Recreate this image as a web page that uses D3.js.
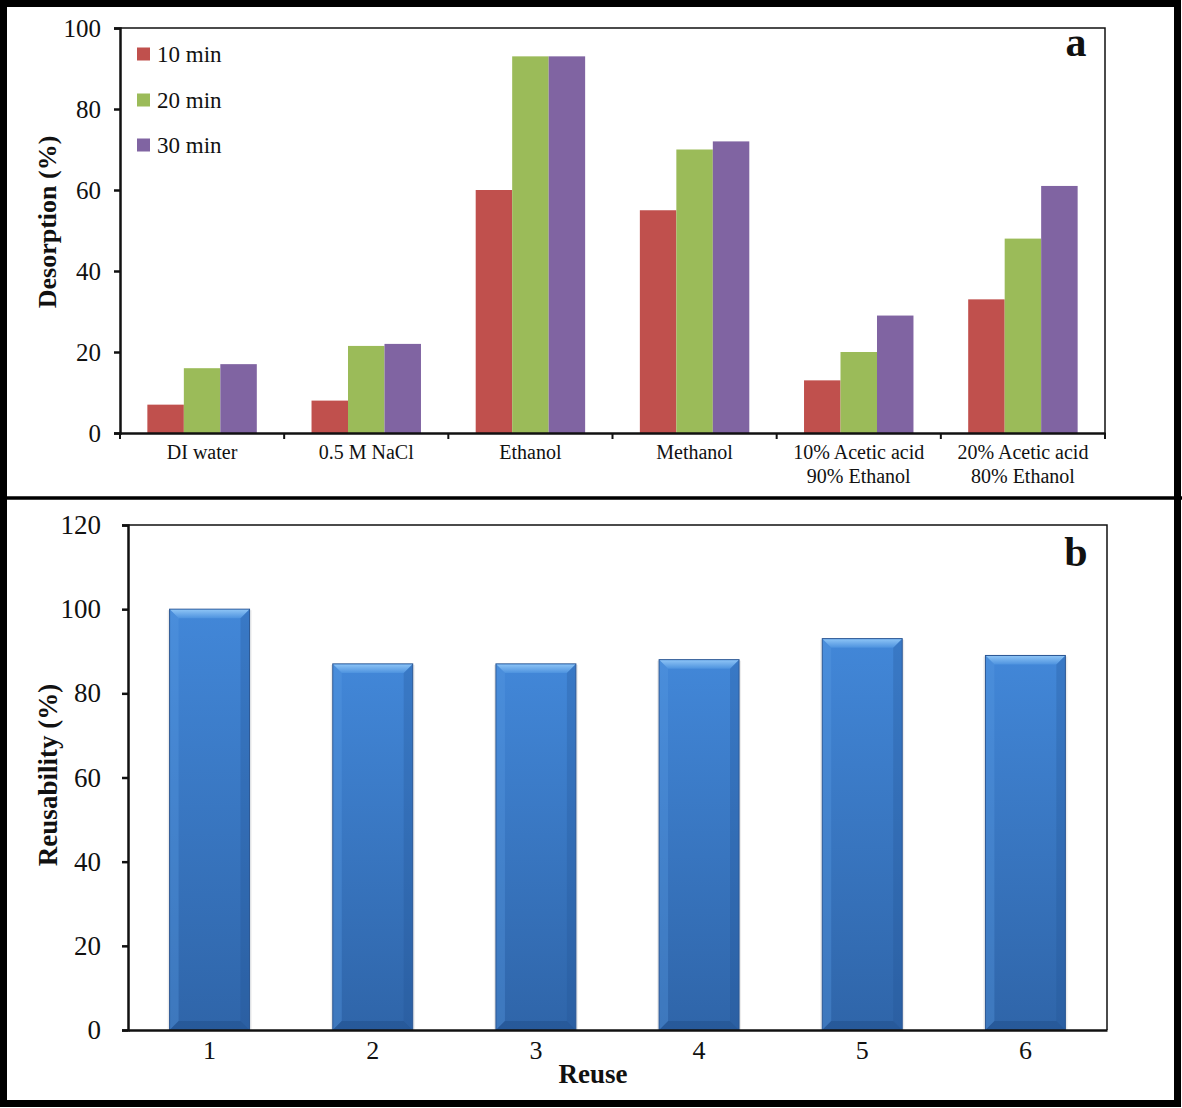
<!DOCTYPE html>
<html>
<head>
<meta charset="utf-8">
<script src="https://cdn.jsdelivr.net/npm/d3@7"></script>
<style>
  body { margin: 0; background: #fff; }
  text { font-family: "Liberation Serif", "Times New Roman", serif; fill: #111; }
</style>
</head>
<body>
<script>
const w = 1182;
const h = 1108;

// panel a data
const solvents = ['DI water', '0.5 M NaCl', 'Ethanol', 'Methanol', '10% Acetic acid\n90% Ethanol', '20% Acetic acid\n80% Ethanol'];
const times = ['10 min', '20 min', '30 min'];
const min10 = [7, 8, 60, 55, 13, 33];
const min20 = [16, 21.5, 93, 70, 20, 48];
const min30 = [17, 22, 93, 72, 29, 61];
const timeColors = ['#C0504D', '#9BBB59', '#8064A2'];
const ticksA = [0, 20, 40, 60, 80, 100];

// panel b data
const reuse = ['1', '2', '3', '4', '5', '6'];
const reusability = [100, 87, 87, 88, 93, 89];
const ticksB = [0, 20, 40, 60, 80, 100, 120];

let svg = d3.select('body').append('svg').attr('width', w).attr('height', h);

let defs = svg.append('defs');
let g1 = defs.append('linearGradient').attr('id', 'barFill').attr('x1', 0).attr('y1', 0).attr('x2', 0).attr('y2', 1);
g1.append('stop').attr('offset', '0%').attr('stop-color', '#4287D8');
g1.append('stop').attr('offset', '100%').attr('stop-color', '#2F65A9');
let g2 = defs.append('linearGradient').attr('id', 'bevelTop').attr('x1', 0).attr('y1', 0).attr('x2', 0).attr('y2', 1);
g2.append('stop').attr('offset', '0%').attr('stop-color', '#8CC3F5');
g2.append('stop').attr('offset', '100%').attr('stop-color', '#4E93DF');

// ---------- panel a ----------
let xa = d3.scaleBand().domain(solvents).range([120, 1105]);
let xaInner = d3.scaleBand().domain(times).range([0, xa.bandwidth()]).paddingOuter(0.75).paddingInner(0);
let ya = d3.scaleLinear().domain([0, 100]).range([433, 28]);

let rowsA = solvents.map((s, i) => ({ name: s, vals: [min10[i], min20[i], min30[i]] }));

let groups = svg.selectAll('g.grp').data(rowsA).enter().append('g')
  .attr('class', 'grp')
  .attr('transform', (d) => 'translate(' + xa(d.name) + ',0)');

groups.selectAll('rect').data((d) => d.vals.map((v, j) => ({ t: times[j], v: v, c: timeColors[j] })))
  .enter().append('rect')
  .attr('x', (d) => xaInner(d.t))
  .attr('width', xaInner.bandwidth())
  .attr('y', (d) => ya(d.v))
  .attr('height', (d) => ya(0) - ya(d.v))
  .attr('fill', (d) => d.c);

// plot box
svg.append('path').attr('d', 'M120,28H1105V433').attr('fill', 'none').attr('stroke', '#111').attr('stroke-width', 1.5);

let yAxisA = svg.append('g').attr('transform', 'translate(120,0)')
  .call(d3.axisLeft(ya).tickValues(ticksA).tickSize(6).tickPadding(13));
yAxisA.selectAll('text').style('font-size', '25px').attr('fill', '#111');

let xAxisA = svg.append('g').attr('transform', 'translate(0,433)')
  .call(d3.axisBottom(xa).tickSize(0).tickFormat(''));
// category separator ticks
svg.selectAll('line.sep').data(d3.range(solvents.length + 1)).enter().append('line')
  .attr('class', 'sep')
  .attr('x1', (i) => 120 + i * xa.step()).attr('x2', (i) => 120 + i * xa.step())
  .attr('y1', 433).attr('y2', 439)
  .attr('stroke', '#111').attr('stroke-width', 2);

svg.selectAll('text.cat').data(solvents).enter().append('text')
  .attr('class', 'cat')
  .attr('text-anchor', 'middle')
  .attr('x', (d) => xa(d) + xa.bandwidth() / 2)
  .attr('y', 459)
  .style('font-size', '20px')
  .each(function (d) {
    let lines = d.split('\n');
    lines.forEach((l, k) => {
      d3.select(this).append('tspan')
        .attr('x', xa(d) + xa.bandwidth() / 2)
        .attr('dy', k === 0 ? 0 : 24)
        .text(l);
    });
  });

svg.append('text').attr('transform', 'translate(56,222) rotate(-90)')
  .attr('text-anchor', 'middle').style('font-size', '26px').style('font-weight', 'bold')
  .text('Desorption (%)');

// legend
let leg = svg.selectAll('g.leg').data(times).enter().append('g')
  .attr('class', 'leg')
  .attr('transform', (d, i) => 'translate(137,' + [54, 100, 145][i] + ')');
leg.append('rect').attr('x', 0).attr('y', -6.5).attr('width', 13).attr('height', 13)
  .attr('fill', (d, i) => timeColors[i]);
leg.append('text').attr('x', 20).attr('y', 8).style('font-size', '23px').text((d) => d);

svg.append('text').attr('x', 1076).attr('y', 56).attr('text-anchor', 'middle')
  .style('font-size', '42px').style('font-weight', 'bold').text('a');

// ---------- panel b ----------
let xb = d3.scaleBand().domain(reuse).range([128, 1107]).paddingInner(0.51).paddingOuter(0.255);
let yb = d3.scaleLinear().domain([0, 120]).range([1030, 525]);

svg.append('path').attr('d', 'M128,525H1107V1030').attr('fill', 'none').attr('stroke', '#111').attr('stroke-width', 1.5);

let bars = svg.selectAll('g.bar').data(reusability).enter().append('g').attr('class', 'bar')
  .attr('transform', (d, i) => 'translate(' + xb(reuse[i]) + ',' + yb(d) + ')');
const bw = xb.bandwidth();
const bv = 9;
// soft shadow
bars.append('rect').attr('x', -2).attr('y', 1).attr('width', bw + 4).attr('height', (d) => yb(0) - yb(d) - 1)
  .attr('fill', '#000').attr('opacity', 0.08);
bars.append('rect').attr('x', 0).attr('y', 0).attr('width', bw).attr('height', (d) => yb(0) - yb(d))
  .attr('fill', 'url(#barFill)').attr('stroke', '#2A5592').attr('stroke-width', 1);
// top bevel
bars.append('path').attr('d', 'M0.5,0.5H' + (bw - 0.5) + 'L' + (bw - bv) + ',' + bv + 'H' + bv + 'Z')
  .attr('fill', 'url(#bevelTop)');
// side bevels
bars.append('path').attr('d', (d) => {
  let hh = yb(0) - yb(d);
  return 'M0.5,0.5L' + bv + ',' + bv + 'V' + (hh - bv) + 'L0.5,' + (hh - 0.5) + 'Z';
}).attr('fill', '#5A9BE3').attr('opacity', 0.35);
bars.append('path').attr('d', (d) => {
  let hh = yb(0) - yb(d);
  return 'M' + (bw - 0.5) + ',0.5L' + (bw - bv) + ',' + bv + 'V' + (hh - bv) + 'L' + (bw - 0.5) + ',' + (hh - 0.5) + 'Z';
}).attr('fill', '#1E4F90').attr('opacity', 0.25);
// bottom bevel
bars.append('path').attr('d', (d) => {
  let hh = yb(0) - yb(d);
  return 'M0.5,' + (hh - 0.5) + 'L' + bv + ',' + (hh - bv) + 'H' + (bw - bv) + 'L' + (bw - 0.5) + ',' + (hh - 0.5) + 'Z';
}).attr('fill', '#1F4C88').attr('opacity', 0.45);

let yAxisB = svg.append('g').attr('transform', 'translate(128,0)')
  .call(d3.axisLeft(yb).tickValues(ticksB).tickSize(6).tickPadding(21));
yAxisB.selectAll('text').style('font-size', '27px').attr('fill', '#111');

let xAxisB = svg.append('g').attr('transform', 'translate(0,1030)')
  .call(d3.axisBottom(xb).tickSize(0).tickPadding(11));
xAxisB.selectAll('text').style('font-size', '26px').attr('fill', '#111');

[yAxisA, xAxisA, yAxisB, xAxisB].forEach((ax) => {
  ax.select('.domain').attr('stroke', '#111').attr('stroke-width', 2.5);
  ax.selectAll('.tick line').attr('stroke', '#111').attr('stroke-width', 2.5);
});

svg.append('text').attr('x', 593).attr('y', 1083).attr('text-anchor', 'middle')
  .style('font-size', '27px').style('font-weight', 'bold').text('Reuse');

svg.append('text').attr('transform', 'translate(57,775) rotate(-90)')
  .attr('text-anchor', 'middle').style('font-size', '27px').style('font-weight', 'bold')
  .text('Reusability (%)');

svg.append('text').attr('x', 1076).attr('y', 566).attr('text-anchor', 'middle')
  .style('font-size', '42px').style('font-weight', 'bold').text('b');

// frames
svg.append('rect').attr('x', 3.5).attr('y', 3.5).attr('width', 1174).attr('height', 1100)
  .attr('fill', 'none').attr('stroke', '#000').attr('stroke-width', 7);
svg.append('line').attr('x1', 0).attr('x2', w).attr('y1', 498).attr('y2', 498)
  .attr('stroke', '#000').attr('stroke-width', 3.5);
</script>
</body>
</html>
